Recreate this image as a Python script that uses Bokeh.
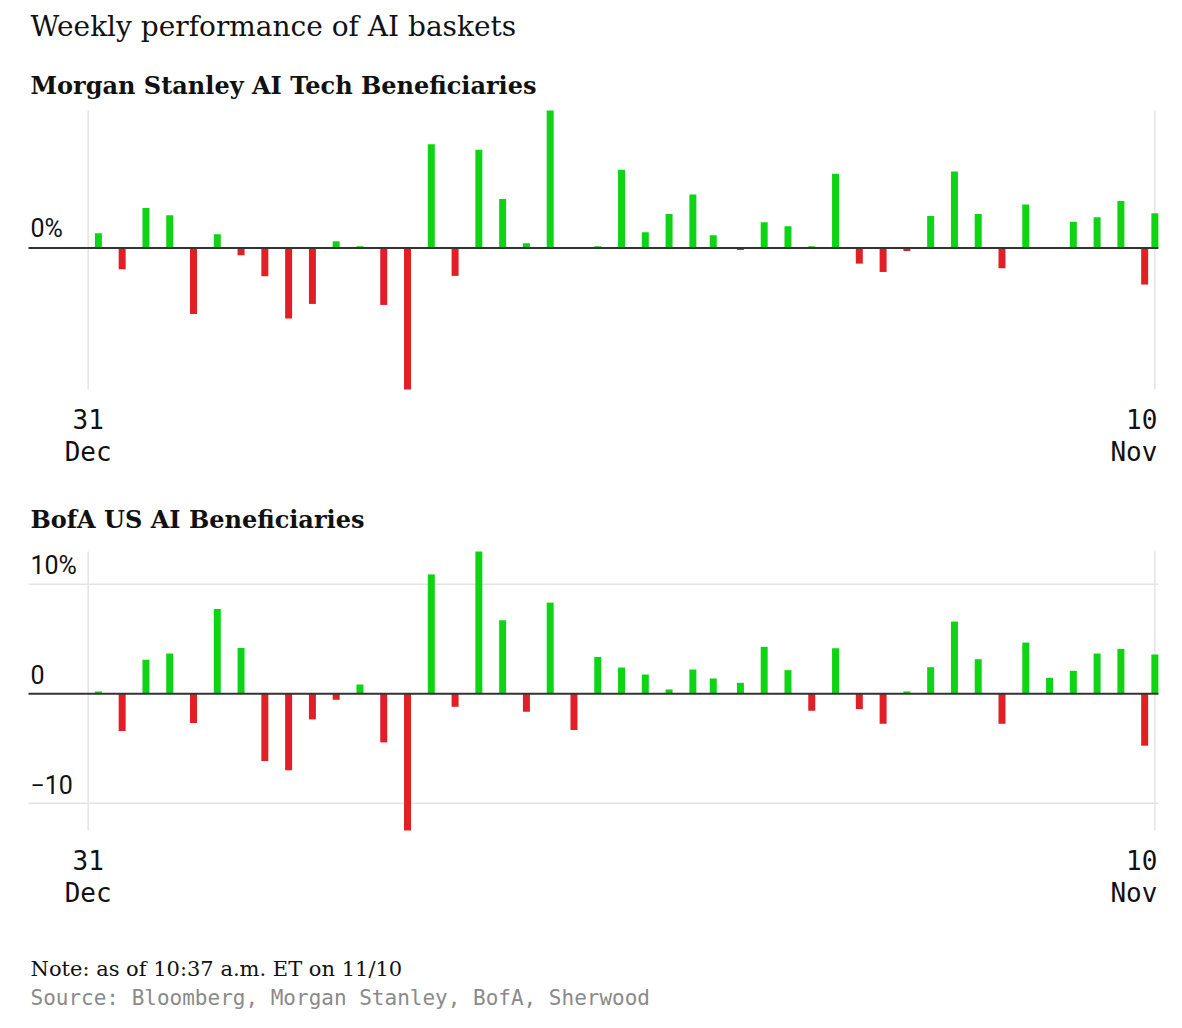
from datetime import datetime
from bokeh.plotting import figure
from bokeh.models import Range1d, Label
from bokeh.layouts import column
from bokeh.embed import file_html
from bokeh.resources import INLINE

# ---------------- data ----------------
title = "Weekly performance of AI baskets"
ms_title = "Morgan Stanley AI Tech Beneficiaries"
bofa_title = "BofA US AI Beneficiaries"
note = "Note: as of 10:37 a.m. ET on 11/10"
source = "Source: Bloomberg, Morgan Stanley, BofA, Sherwood"

weeks = [
    "2025-01-03", "2025-01-10", "2025-01-17", "2025-01-24", "2025-01-31",
    "2025-02-07", "2025-02-14", "2025-02-21", "2025-02-28",
    "2025-03-07", "2025-03-14", "2025-03-21", "2025-03-28",
    "2025-04-04", "2025-04-11", "2025-04-18", "2025-04-25",
    "2025-05-02", "2025-05-09", "2025-05-16", "2025-05-23", "2025-05-30",
    "2025-06-06", "2025-06-13", "2025-06-20", "2025-06-27",
    "2025-07-03", "2025-07-11", "2025-07-18", "2025-07-25",
    "2025-08-01", "2025-08-08", "2025-08-15", "2025-08-22", "2025-08-29",
    "2025-09-05", "2025-09-12", "2025-09-19", "2025-09-26",
    "2025-10-03", "2025-10-10", "2025-10-17", "2025-10-24", "2025-10-31",
    "2025-11-07", "2025-11-10",
]

ms_values = [
    1.34, -1.95, 3.65, 2.98, -6.02,
    1.25, -0.67, -2.58, -6.44,
    -5.11, 0.61, 0.15, -5.20,
    -12.92, 9.48, -2.55, 8.97,
    4.47, 0.43, 12.55, 0.0, 0.15,
    7.14, 1.43, 3.10, 4.89,
    1.16, -0.18, 2.34, 1.98,
    0.15, 6.78, -1.43, -2.19, -0.27,
    2.92, 6.99, 3.10, -1.85,
    3.98, 0.0, 2.40, 2.80, 4.29,
    -3.34, 3.16,
]

bofa_values = [
    0.21, -3.40, 3.10, 3.68, -2.67,
    7.75, 4.19, -6.14, -6.99,
    -2.34, -0.55, 0.85, -4.44,
    -12.49, 10.91, -1.19, 13.00,
    6.72, -1.64, 8.33, -3.31, 3.37,
    2.40, 1.76, 0.40, 2.22,
    1.40, 1.00, 4.29, 2.16,
    -1.55, 4.16, -1.40, -2.74, 0.21,
    2.43, 6.60, 3.16, -2.74,
    4.68, 1.46, 2.10, 3.68, 4.10,
    -4.74, 3.59,
]

xtick_dates = ["2024-12-31", "2025-11-10"]
xtick_day = ["31", "10"]
xtick_month = ["Dec", "Nov"]

ms_yticks = [0]
ms_ylabels = ["0%"]
bofa_yticks = [10, 0, -10]
bofa_ylabels = ["10%", "0", "\u221210"]
bofa_ygrid = [10, -10]

# ---------------- helpers ----------------
EPOCH = datetime(1970, 1, 1)
DAY = 86400000.0


def to_ms(s):
    return (datetime.strptime(s, "%Y-%m-%d") - EPOCH).total_seconds() * 1000.0


week_ms = [to_ms(w) for w in weeks]
tick_ms = [to_ms(t) for t in xtick_dates]

W = 1180
PX_PER_DAY = 3.397
# frame = whole canvas; first tick at 87.7px
x_start = tick_ms[0] - 87.7 / PX_PER_DAY * DAY
x_end = x_start + W / PX_PER_DAY * DAY
# plotting-area horizontal extent (28px .. 1158px)
area_left = tick_ms[0] - 59.7 / PX_PER_DAY * DAY
area_right = tick_ms[-1] + 3.5 / PX_PER_DAY * DAY

GREEN = "#0fd416"
RED = "#e21f26"
GRID = "#e4e4e4"
SERIF = "DejaVu Serif"
MONO = "DejaVu Sans Mono"
SANS = "Roboto"
INK = "#111111"


def fix(size):
    # renderer places the alphabetic baseline a bit low; lift it
    return 0.38 * size


def text_label(p, x, y, text, size, font=SERIF, **kw):
    p.add_layout(Label(x=x, y=y + fix(size), x_units="screen", y_units="screen",
                       text=text, text_font=font, text_font_size=f"{size}px",
                       text_baseline="alphabetic", **kw))


def panel(vals, height, area_top, area_bottom, yticks, ylabels, ygrid):
    vmin, vmax = min(vals), max(vals)
    ppu = (area_bottom - area_top) / (vmax - vmin)
    y_end = vmax + area_top / ppu
    y_start = vmin - (height - area_bottom) / ppu
    p = figure(width=W, height=height, x_axis_type=None, y_axis_type=None,
               x_range=Range1d(x_start, x_end), y_range=Range1d(y_start, y_end),
               output_backend="svg", toolbar_location=None,
               min_border=0, min_border_left=0, min_border_right=0,
               min_border_top=0, min_border_bottom=0)
    p.outline_line_color = None
    p.background_fill_color = "white"
    p.border_fill_color = "white"
    p.segment(x0=tick_ms, x1=tick_ms, y0=[vmin] * len(tick_ms), y1=[vmax] * len(tick_ms),
              line_color=GRID, line_width=1.5)
    if ygrid:
        p.segment(x0=[area_left] * len(ygrid), x1=[area_right] * len(ygrid),
                  y0=ygrid, y1=ygrid, line_color=GRID, line_width=1.5)
    colors = [GREEN if v >= 0 else RED for v in vals]
    p.vbar(x=week_ms, top=vals, bottom=0, width=2.06 * DAY,
           fill_color=colors, line_color=None)
    p.segment(x0=[area_left], x1=[area_right], y0=[0], y1=[0],
              line_color="#333333", line_width=2)
    ys = 25
    for yt, yl in zip(yticks, ylabels):
        p.add_layout(Label(x=30, x_units="screen", y=yt, text=yl,
                           y_offset=9.5 + fix(ys),
                           text_font=SANS, text_font_size=f"{ys}px",
                           text_color=INK, text_baseline="alphabetic"))
    xs = 26
    for i, (t, d, m) in enumerate(zip(tick_ms, xtick_day, xtick_month)):
        last = i == len(tick_ms) - 1
        align = "right" if last else "center"
        xo = 2.5 if last else 0
        p.add_layout(Label(x=t, y=vmin, text=d, x_offset=xo, y_offset=-39 + fix(xs),
                           text_font=MONO, text_font_size=f"{xs}px",
                           text_color=INK, text_align=align,
                           text_baseline="alphabetic"))
        p.add_layout(Label(x=t, y=vmin, text=m, x_offset=xo, y_offset=-72 + fix(xs),
                           text_font=MONO, text_font_size=f"{xs}px",
                           text_color=INK, text_align=align,
                           text_baseline="alphabetic"))
    return p


H1 = 480
H2 = 540
# top panel: plotting area page y 110..389
p1 = panel(ms_values, H1, 110, 389, ms_yticks, ms_ylabels, [])
text_label(p1, 30, H1 - 37, title, 28, text_color=INK)
text_label(p1, 30, H1 - 94, ms_title, 24, text_font_style="bold", text_color=INK)

# bottom panel: plotting area page y 551..830 -> 71..350 in this figure
p2 = panel(bofa_values, H2, 71, 350, bofa_yticks, bofa_ylabels, bofa_ygrid)
text_label(p2, 30, H2 - 48, bofa_title, 24, text_font_style="bold", text_color=INK)
text_label(p2, 30, H2 - 496, note, 21, text_color=INK)
text_label(p2, 30, H2 - 525, source, 21, font=MONO, text_color="#8a8a8a")

layout = column(p1, p2, spacing=0)
open("out.html", "w").write(file_html(layout, INLINE))
